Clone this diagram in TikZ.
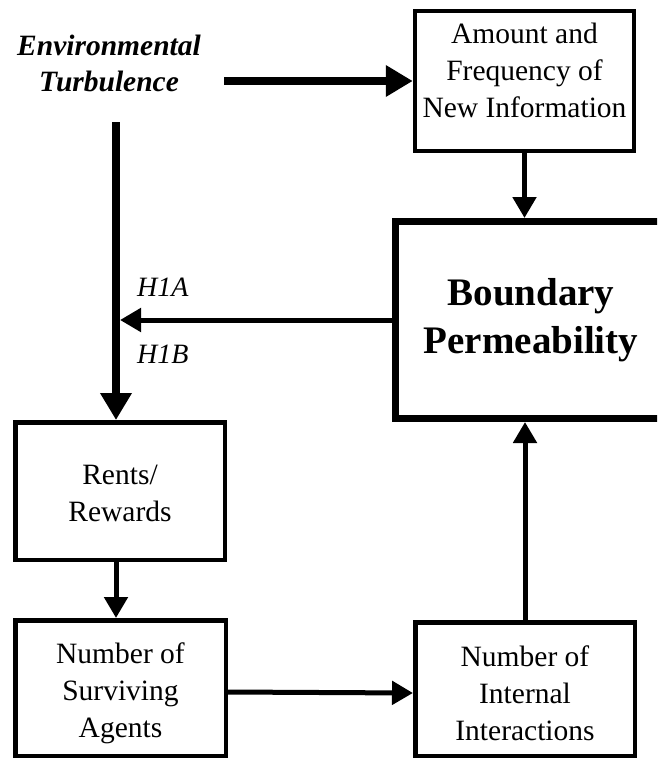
\documentclass[tikz,border=0pt]{standalone}
\usepackage{fontspec}
\setmainfont{Liberation Serif}
\usetikzlibrary{arrows.meta,calc}
\newcommand{\dropdown}[1]{\rule{0pt}{#1}}
\newcommand{\liftup}[1]{\rule[-#1]{0pt}{#1}}
\begin{document}
\begin{tikzpicture}[x=1pt,y=-1pt,
  box/.style={draw, line width=4.5pt, inner sep=0pt, outer sep=2.25pt, align=center,
    font=\fontsize{29.5}{37}\selectfont},
  bigbox/.style={draw, line width=7pt, inner sep=0pt, outer sep=3.5pt, align=center,
    font=\bfseries\fontsize{39}{48}\selectfont},
  lbl/.style={inner sep=0pt, anchor=base west, font=\itshape\fontsize{28}{34}\selectfont},
  thinarrow/.style={line width=5pt, -{Triangle[length=21pt,width=23pt]}},
  thickarrow/.style={line width=8pt, -{Triangle[length=27pt,width=30pt]}}]
\useasboundingbox (0,0) rectangle (657,760);
\begin{scope}
\clip (0,0) rectangle (657,760);
\node[box, minimum width=219pt, minimum height=139.5pt] (amount) at (524.5,81)
  {Amount and\\Frequency of\\New Information\liftup{22pt}};
\node[bigbox, minimum width=271pt, minimum height=197pt] (bound) at (531,320)
  {Boundary\\Permeability};
\node[box, minimum width=209.5pt, minimum height=137.5pt] (rents) at (120,491)
  {\dropdown{24pt}Rents/\\Rewards};
\node[box, minimum width=210.5pt, minimum height=135.5pt] (surv) at (120.5,688)
  {\dropdown{31pt}Number of\\Surviving\\Agents};
\node[box, minimum width=219.5pt, minimum height=133.5pt] (inter) at (525,689)
  {\dropdown{30pt}Number of\\Internal\\Interactions};
\end{scope}
\node[inner sep=0pt, align=center, font=\bfseries\itshape\fontsize{29.5}{36}\selectfont]
  (env) at (109,63) {Environmental\\Turbulence};
\node[lbl] (h1a) at (137,296) {H1A};
\node[lbl] (h1b) at (137,363) {H1B};
\coordinate (tstart) at (224,81);
\coordinate (vstart) at (116,122);
\coordinate (hit) at (120,320);
\draw[thickarrow] (tstart) -- (tstart -| amount.west);
\draw[thickarrow] (vstart) -- (vstart |- rents.north);
\draw[thinarrow] (amount.south) -- (amount.south |- bound.north);
\draw[thinarrow] (bound.west) -- (hit);
\draw[thinarrow] (rents.south -| vstart) -- (surv.north -| vstart);
\draw[thinarrow] ([yshift=-4pt]surv.east) -- ([yshift=-4pt]inter.west);
\draw[thinarrow] (inter.north) -- (inter.north |- bound.south);
\end{tikzpicture}
\end{document}
